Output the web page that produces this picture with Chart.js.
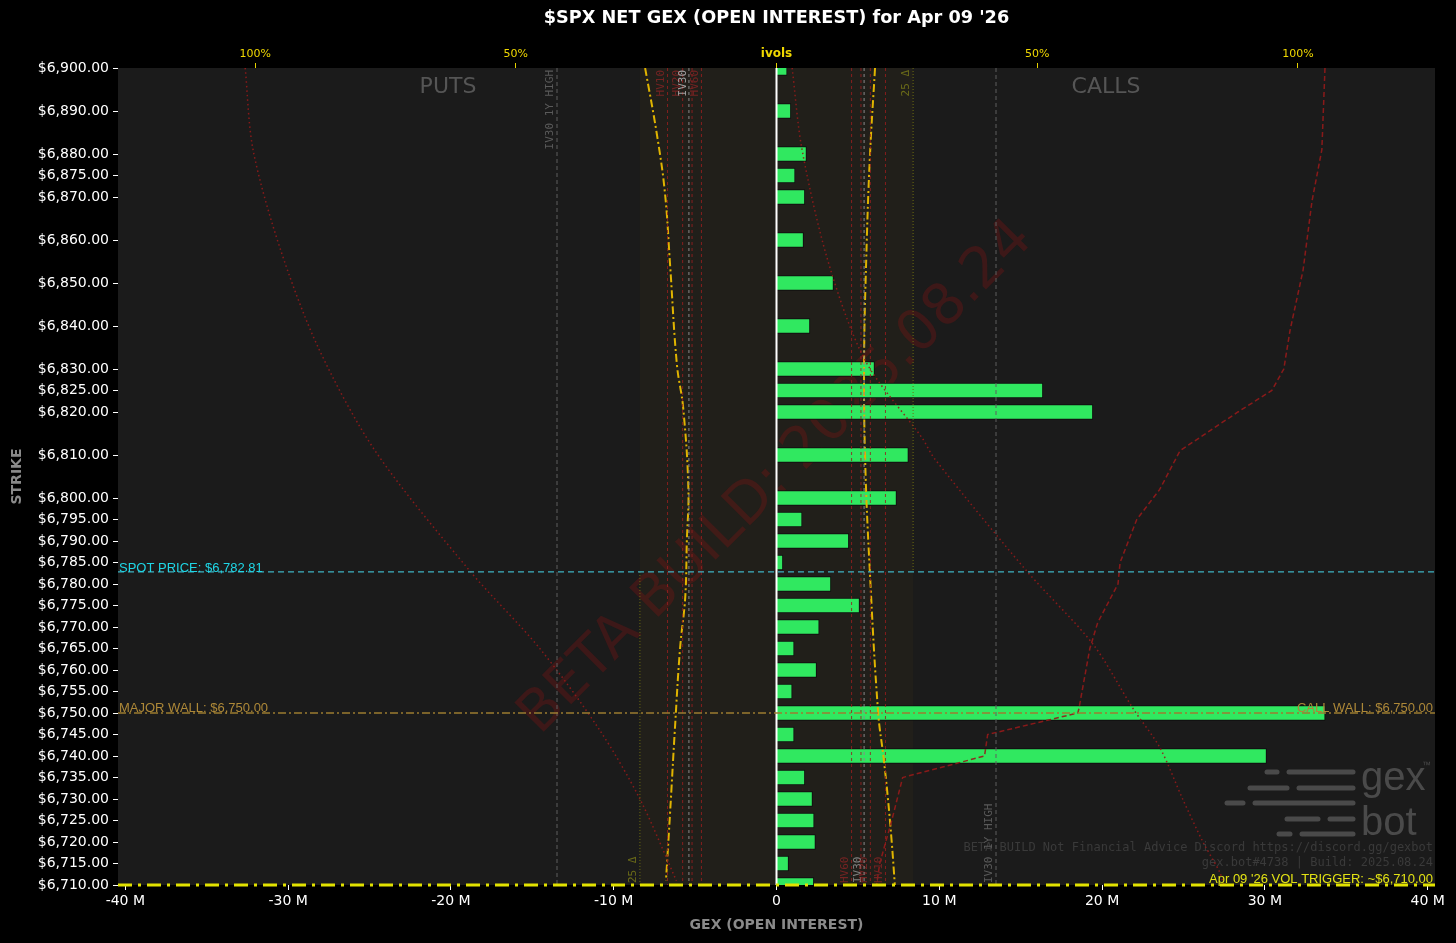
<!DOCTYPE html>
<html>
<head>
<meta charset="utf-8">
<script src="https://cdn.jsdelivr.net/npm/chart.js@4.4.1/dist/chart.umd.min.js"></script>
<style>
html, body { margin: 0; padding: 0; background: #000; }
</style>
</head>
<body>
<canvas id="gexChart" width="1456" height="943"></canvas>
<script>
// strikes with open interest and net GEX (millions)
var strikes = [6900, 6890, 6880, 6875, 6870, 6860, 6850, 6840, 6830, 6825, 6820, 6810, 6800, 6795, 6790, 6785,
               6780, 6775, 6770, 6765, 6760, 6755, 6750, 6745, 6740, 6735, 6730, 6725, 6720, 6715, 6710];
var netGex = [0.65, 0.88, 1.84, 1.14, 1.74, 1.66, 3.5, 2.05, 6.02, 16.36, 19.43, 8.1, 7.37, 1.57, 4.44, 0.39,
              3.34, 5.1, 2.62, 1.08, 2.46, 0.96, 33.7, 1.08, 30.1, 1.74, 2.21, 2.31, 2.39, 0.74, 2.29];

// ivols (top axis, %), puts drawn to the left
var putIvStrikes = [6900, 6885, 6871, 6854, 6831, 6821, 6802, 6790, 6777, 6765, 6746, 6727, 6711];
var putIv = [-25.2, -23.0, -21.4, -20.4, -19.1, -17.9, -16.9, -17.2, -17.5, -18.5, -19.5, -20.4, -21.2];
var callIvStrikes = [6900, 6879, 6855, 6832, 6809, 6783, 6750, 6740, 6731, 6720, 6710];
var callIv = [18.9, 17.9, 17.2, 16.8, 17.0, 17.9, 19.5, 20.5, 21.3, 22.1, 22.7];

// red dotted / dashed curves on the ivol axis
var putDotStrikes = [6900, 6881, 6858, 6835, 6811, 6783, 6765, 6746, 6730, 6711];
var putDot = [-101.9, -100.4, -95.2, -87.9, -77.0, -58.8, -45.4, -33.9, -26.2, -19.2];
var callDotStrikes = [6900, 6881, 6855, 6832, 6814, 6809, 6783, 6766, 6751, 6742, 6730, 6720, 6713, 6710];
var callDot = [3.0, 4.9, 9.9, 17.0, 27.9, 30.4, 48.0, 60.7, 68.4, 73.5, 77.9, 81.8, 85.0, 85.8];
var dashStrikes = [6900, 6881, 6869, 6853, 6839, 6830, 6825, 6820, 6811, 6802, 6795, 6785, 6780, 6771, 6765,
                   6751, 6750, 6745, 6740, 6735, 6725, 6715, 6710];
var dashCurve = [105.2, 104.6, 102.7, 101.0, 98.5, 97.3, 95.0, 88.5, 77.4, 73.5, 69.1, 65.9, 65.5, 61.6, 60.1,
                 58.0, 57.8, 40.5, 39.9, 24.2, 22.1, 19.8, 19.2];

// vol levels (%)
var volNames = ['HV10', 'HV20', 'IV30', '', 'HV60'];
var volValues = [20.9, 18.0, 16.8, 16.2, 14.4];
var iv30High = 42.1;
var delta25 = 26.2;

var spotPrice = 6782.81;
var majorWall = 6750;
var volTrigger = 6710;

var gexTicks = [-40, -30, -20, -10, 0, 10, 20, 30, 40];
var ivolTicks = [-100, -50, 0, 50, 100];

function pairs(ys, xs) {
    return ys.map(function (y, i) { return { x: xs[i], y: y }; });
}
function money(v) {
    return '$' + v.toLocaleString('en-US', { minimumFractionDigits: 2, maximumFractionDigits: 2 });
}

Chart.defaults.font.family = 'DejaVu Sans';

var decor = {
    id: 'decor',
    beforeDraw: function (chart) {
        var c = chart.ctx, a = chart.chartArea, x2 = chart.scales.x2;
        c.save();
        c.fillStyle = '#000';
        c.fillRect(0, 0, chart.width, chart.height);
        c.fillStyle = '#1b1b1b';
        c.fillRect(a.left, a.top, a.right - a.left, a.bottom - a.top);
        // 25 delta band
        var b1 = x2.getPixelForValue(-delta25), b2 = x2.getPixelForValue(delta25);
        c.fillStyle = 'rgba(60,50,25,0.2)';
        c.fillRect(b1, a.top, b2 - b1, a.bottom - a.top);
        c.restore();
    },
    beforeDatasetsDraw: function (chart) {
        var c = chart.ctx, a = chart.chartArea;
        var cx = (a.left + a.right) / 2;
        c.save();
        // watermark
        c.save();
        c.translate(cx, 478);
        c.rotate(-Math.PI / 4);
        c.font = '57px "DejaVu Sans"';
        c.fillStyle = 'rgba(125,20,20,0.35)';
        c.textAlign = 'center';
        c.textBaseline = 'middle';
        c.fillText('BETA BUILD: 2025.08.24', 0, 0);
        c.restore();

        c.font = '22px "DejaVu Sans"';
        c.fillStyle = '#555';
        c.textAlign = 'center';
        c.textBaseline = 'middle';
        c.fillText('PUTS', 448, 87);
        c.fillText('CALLS', 1106, 87);

        // logo
        c.strokeStyle = '#4a4a4a';
        c.lineWidth = 5;
        c.lineCap = 'round';
        var segs = [[1267, 1277, 772], [1289, 1353, 772], [1250, 1287, 788], [1299, 1353, 788],
                    [1227, 1243, 803], [1255, 1353, 803], [1287, 1318, 819], [1330, 1353, 819],
                    [1279, 1290, 834], [1302, 1353, 834]];
        segs.forEach(function (s) {
            c.beginPath(); c.moveTo(s[0], s[2]); c.lineTo(s[1], s[2]); c.stroke();
        });
        c.fillStyle = '#4a4a4a';
        c.textAlign = 'left';
        c.textBaseline = 'alphabetic';
        c.font = '40px "Liberation Sans"';
        c.fillText('gex', 1361, 790);
        c.fillText('bot', 1361, 835);
        c.font = '9px "Liberation Sans"';
        c.fillText('™', 1422, 768);

        c.font = '12px "DejaVu Sans Mono"';
        c.fillStyle = '#3a3a3a';
        c.textAlign = 'right';
        c.textBaseline = 'middle';
        c.fillText('BETA BUILD Not Financial Advice Discord https://discord.gg/gexbot', 1433, 848);
        c.fillText('gex.bot#4738 | Build: 2025.08.24', 1433, 863);
        c.restore();
    },
    afterDatasetsDraw: function (chart) {
        var c = chart.ctx, a = chart.chartArea, x2 = chart.scales.x2, y = chart.scales.y, x = chart.scales.x;
        c.save();
        c.lineWidth = 1;
        c.font = '11px "DejaVu Sans Mono"';
        c.textBaseline = 'middle';

        function vline(px, y0, y1, color, dash) {
            c.strokeStyle = color;
            c.setLineDash(dash);
            c.beginPath(); c.moveTo(px, y0); c.lineTo(px, y1); c.stroke();
        }
        function vlabel(text, px, py, color, top) {
            if (!text) return;
            c.save();
            c.translate(px, py);
            c.rotate(-Math.PI / 2);
            c.fillStyle = color;
            c.textAlign = top ? 'right' : 'left';
            c.fillText(text, 0, 0);
            c.restore();
        }

        volNames.forEach(function (name, i) {
            var isIv = name === 'IV30';
            var lc = isIv ? '#8a8a8a' : 'rgba(150,30,30,0.85)';
            var tc = isIv ? '#a0a0a0' : 'rgba(125,35,35,0.9)';
            var pl = x2.getPixelForValue(-volValues[i]);
            var pr = x2.getPixelForValue(volValues[i]);
            vline(pl, a.top, a.bottom, lc, [3, 3]);
            vline(pr, a.top, a.bottom, lc, [3, 3]);
            vlabel(name, pl - 6, a.top + 2, tc, true);
            vlabel(name, pr - 6, a.bottom - 2, isIv ? '#808080' : tc, false);
        });

        var hl = x2.getPixelForValue(-iv30High), hr = x2.getPixelForValue(iv30High);
        vline(hl, a.top, a.bottom, '#5f5f5f', [4, 3]);
        vline(hr, a.top, a.bottom, '#5f5f5f', [4, 3]);
        vlabel('IV30 1Y HIGH', hl - 7, a.top + 2, '#5a5a5a', true);
        vlabel('IV30 1Y HIGH', hr - 7, a.bottom - 2, '#5a5a5a', false);

        var spotY = y.getPixelForValue(spotPrice);
        var dl = x2.getPixelForValue(-delta25), dr = x2.getPixelForValue(delta25);
        vline(dl, spotY, a.bottom, '#6e6e12', [1, 2]);
        vline(dr, a.top, spotY, '#6e6e12', [1, 2]);
        vlabel('25 Δ', dl - 7, a.bottom - 2, '#6a6a18', false);
        vlabel('25 Δ', dr - 7, a.top + 2, '#6a6a18', true);

        // zero line
        var zx = x.getPixelForValue(0);
        c.lineWidth = 2;
        vline(zx, a.top, a.bottom, '#ffffff', []);

        // horizontal levels
        c.font = '13px "Liberation Sans"';
        c.textBaseline = 'alphabetic';
        function hline(py, color, dash, w) {
            c.strokeStyle = color;
            c.lineWidth = w;
            c.setLineDash(dash);
            c.beginPath(); c.moveTo(a.left, py); c.lineTo(a.right, py); c.stroke();
        }
        hline(spotY, '#3fb4c4', [6, 4], 1.2);
        c.fillStyle = '#1fd6e6';
        c.textAlign = 'left';
        c.fillText('SPOT PRICE: ' + money(spotPrice), a.left + 1, spotY);

        var wy = y.getPixelForValue(majorWall);
        hline(wy, '#9c7c30', [8, 3, 2, 3], 1.3);
        c.fillStyle = '#ad8838';
        c.textAlign = 'left';
        c.fillText('MAJOR WALL: ' + money(majorWall), a.left + 1, wy - 1);
        c.textAlign = 'right';
        c.fillText('CALL WALL: ' + money(majorWall), a.right - 2, wy - 1);

        var ty = y.getPixelForValue(volTrigger);
        hline(ty, '#e2e200', [14, 6, 3, 6], 3);
        c.fillStyle = '#e2e214';
        c.textAlign = 'right';
        c.fillText("Apr 09 '26 VOL TRIGGER: ~" + money(volTrigger), a.right - 2, ty - 2);
        c.restore();
    },
    afterDraw: function (chart) {
        var c = chart.ctx, a = chart.chartArea;
        c.save();
        c.fillStyle = '#fff';
        c.font = 'bold 17.7px "DejaVu Sans"';
        c.textAlign = 'center';
        c.textBaseline = 'middle';
        c.fillText("$SPX NET GEX (OPEN INTEREST) for Apr 09 '26", (a.left + a.right) / 2, 18);
        c.restore();
    }
};

function curve(label, ys, xs, color, width, dash, tension) {
    return {
        type: 'line', label: label, indexAxis: 'y', xAxisID: 'x2', yAxisID: 'y',
        data: pairs(ys, xs), borderColor: color, borderWidth: width, borderDash: dash,
        pointRadius: 0, tension: tension, fill: false, order: 0, clip: 0
    };
}

var ctx = document.getElementById('gexChart').getContext('2d');
var gexChart = new Chart(ctx, {
    type: 'bar',
    data: {
        datasets: [
            curve('put dotted', putDotStrikes, putDot, 'rgba(150,25,25,0.9)', 1.5, [1.5, 3], 0.3),
            curve('call dotted', callDotStrikes, callDot, 'rgba(150,25,25,0.9)', 1.5, [1.5, 3], 0.3),
            curve('dashed', dashStrikes, dashCurve, 'rgba(150,25,25,0.9)', 1.5, [5, 3], 0),
            curve('put iv', putIvStrikes, putIv, '#e0b400', 2, [8, 3, 2, 3], 0.4),
            curve('call iv', callIvStrikes, callIv, '#e0b400', 2, [8, 3, 2, 3], 0.4),
            {
                type: 'bar', label: 'Net GEX', indexAxis: 'y', xAxisID: 'x', yAxisID: 'y',
                data: pairs(strikes, netGex),
                backgroundColor: '#30e860', borderColor: '#0e0e0e', borderWidth: 1,
                barThickness: 15, order: 5, clip: 0
            }
        ]
    },
    options: {
        indexAxis: 'y',
        responsive: false,
        animation: false,
        layout: { padding: { left: 0, right: 21, top: 0, bottom: 0 } },
        scales: {
            x: {
                type: 'linear', position: 'bottom', min: -40.45, max: 40.45,
                afterBuildTicks: function (s) { s.ticks = gexTicks.map(function (v) { return { value: v }; }); },
                afterFit: function (s) { s.height = 58; },
                ticks: {
                    color: '#fff', font: { size: 14 }, padding: 3, autoSkip: false, maxRotation: 0,
                    callback: function (v) { return v === 0 ? '0' : v + ' M'; }
                },
                grid: { drawOnChartArea: false, drawTicks: true, tickLength: 5, color: '#fff' },
                border: { display: false },
                title: {
                    display: true, text: 'GEX (OPEN INTEREST)', color: '#8a8a8a',
                    font: { size: 14, weight: 'bold' }, padding: { top: 0, bottom: 9 }
                }
            },
            x2: {
                type: 'linear', position: 'top', min: -126.3, max: 126.3,
                afterBuildTicks: function (s) { s.ticks = ivolTicks.map(function (v) { return { value: v }; }); },
                afterFit: function (s) { s.height = 68; },
                ticks: {
                    color: '#f0d800', padding: 2, autoSkip: false, maxRotation: 0,
                    font: function (c) {
                        return c.tick && c.tick.value === 0 ? { size: 12, weight: 'bold' } : { size: 11 };
                    },
                    callback: function (v) { return v === 0 ? 'ivols' : Math.abs(v) + '%'; }
                },
                grid: { drawOnChartArea: false, drawTicks: true, tickLength: 5, color: '#e6d200' },
                border: { display: false }
            },
            y: {
                type: 'linear', min: 6710, max: 6900, offset: false,
                afterBuildTicks: function (s) { s.ticks = strikes.map(function (v) { return { value: v }; }); },
                afterFit: function (s) { s.width = 118; },
                ticks: {
                    color: '#fff', font: { size: 14 }, padding: 4, autoSkip: false,
                    callback: function (v) { return money(v); }
                },
                grid: { offset: false, drawOnChartArea: false, drawTicks: true, tickLength: 5, color: '#fff' },
                border: { display: false },
                title: {
                    display: true, text: 'STRIKE', color: '#8a8a8a',
                    font: { size: 14, weight: 'bold' }, padding: { top: 9, bottom: 0 }
                }
            }
        },
        plugins: {
            legend: { display: false },
            tooltip: { enabled: false },
            title: { display: false }
        }
    },
    plugins: [decor]
});
</script>
</body>
</html>
